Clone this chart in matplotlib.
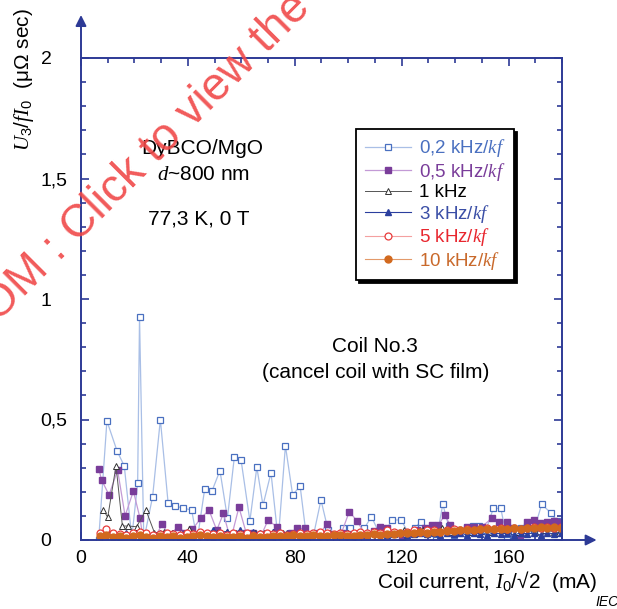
import matplotlib
matplotlib.use("Agg")
import matplotlib.pyplot as plt

plt.rcParams['font.family'] = ['Liberation Sans', 'DejaVu Sans']
plt.rcParams['mathtext.fontset'] = 'custom'
plt.rcParams['mathtext.it'] = 'Liberation Serif:italic'
plt.rcParams['mathtext.rm'] = 'Liberation Sans'

# 0,2 kHz/kf (open squares)
x02 = [6.6, 9.7, 13.5, 16.2, 19.0, 21.2, 21.9, 23.5, 26.8, 29.7,
       32.6, 35.2, 38.1, 41.4, 43.5, 46.3, 49.0, 52.0, 54.8, 57.4,
       59.9, 63.2, 65.8, 68.1, 71.1, 73.8, 76.5, 79.2, 82.0, 84.5,
       87.2, 89.8, 92.5, 95.5, 98.2, 100.8, 103.5, 106.0, 108.7, 111.5,
       114.0, 116.5, 119.8, 122.5, 125.0, 127.1, 130.0, 132.9, 135.4, 137.6,
       139.5, 142.5, 144.5, 146.6, 148.8, 151.5, 154.3, 157.1, 159.5, 162.0,
       164.5, 167.0, 169.5, 172.4, 175.8, 178.0]
y02 = [0.0, 0.494, 0.369, 0.307, 0.01, 0.235, 0.925, 0.0, 0.18, 0.5,
       0.153, 0.141, 0.133, 0.124, 0.0, 0.213, 0.203, 0.288, 0.091, 0.346,
       0.332, 0.079, 0.302, 0.144, 0.279, 0.0, 0.391, 0.187, 0.224, 0.0,
       0.03, 0.166, 0.04, 0.0, 0.048, 0.05, 0.0, 0.048, 0.097, 0.03,
       0.04, 0.083, 0.083, 0.03, 0.05, 0.076, 0.04, 0.0, 0.148, 0.058,
       0.02, 0.03, 0.05, 0.058, 0.058, 0.04, 0.131, 0.131, 0.0, 0.03,
       0.05, 0.06, 0.04, 0.148, 0.113, 0.079]

# 0,5 kHz/kf (filled squares)
x05 = [6.7, 7.7, 10.5, 13.7, 16.5, 19.6, 22.1, 23.3, 25.8, 27.5,
       30.4, 33.0, 36.4, 39.0, 41.7, 44.8, 47.9, 50.8, 53.3, 56.0,
       59.1, 61.8, 64.5, 67.5, 70.0, 73.2, 76.0, 78.5, 81.0, 83.8,
       86.5, 89.5, 92.0, 95.0, 97.5, 100.4, 103.3, 106.5, 109.5, 111.9,
       114.5, 117.5, 120.3, 123.0, 125.8, 128.7, 131.2, 133.7, 136.2, 138.1,
       141.0, 144.3, 147.0, 150.0, 153.7, 156.4, 159.3, 161.8, 164.3, 166.8,
       169.5, 171.8, 174.3, 177.0, 179.3]
y05 = [0.293, 0.249, 0.187, 0.29, 0.1, 0.203, 0.09, 0.0, 0.0, 0.01,
       0.065, 0.02, 0.055, 0.03, 0.044, 0.09, 0.124, 0.041, 0.11, 0.0,
       0.136, 0.03, 0.028, 0.02, 0.083, 0.055, 0.02, 0.03, 0.048, 0.048,
       0.02, 0.03, 0.065, 0.02, 0.03, 0.118, 0.079, 0.02, 0.037, 0.055,
       0.051, 0.03, 0.0, 0.03, 0.04, 0.048, 0.062, 0.062, 0.104, 0.062,
       0.04, 0.055, 0.055, 0.055, 0.09, 0.075, 0.075, 0.05, 0.021, 0.073,
       0.083, 0.072, 0.076, 0.079, 0.076]

# 1 kHz (open triangles)
x1 = [8.4, 10.0, 13.1, 15.5, 17.7, 20.8, 24.3, 27.5, 31.0, 34.0,
      37.0, 40.5, 44.0, 47.5, 51.0, 54.5, 58.0, 61.5, 65.0, 68.5,
      72.0, 75.5, 79.0, 82.5, 86.0, 89.5, 93.0, 96.5, 100.0, 103.5,
      107.0, 110.5, 114.0, 117.5, 121.0, 124.5, 128.0, 131.5, 135.0, 138.5,
      142.0, 145.5, 149.0, 152.5, 156.0, 159.5, 163.0, 166.5, 170.0, 173.5,
      177.0, 179.0]
y1 = [0.124, 0.094, 0.308, 0.058, 0.058, 0.055, 0.124, 0.03, 0.035, 0.03,
      0.025, 0.045, 0.03, 0.025, 0.03, 0.035, 0.03, 0.025, 0.03, 0.03,
      0.035, 0.03, 0.025, 0.03, 0.03, 0.025, 0.03, 0.02, 0.03, 0.025,
      0.03, 0.03, 0.035, 0.03, 0.04, 0.035, 0.04, 0.035, 0.05, 0.035,
      0.04, 0.035, 0.04, 0.035, 0.04, 0.04, 0.035, 0.04, 0.035, 0.04,
      0.035, 0.03]

# 3, 5 and 10 kHz share the same currents
xl = [7.0, 9.5, 12.0, 14.5, 17.0, 19.5, 22.0, 24.5, 27.0, 29.5,
      32.0, 34.5, 37.0, 39.5, 42.0, 44.5, 47.0, 49.5, 52.0, 54.5,
      57.0, 59.5, 62.0, 64.5, 67.0, 69.5, 72.0, 74.5, 77.0, 79.5,
      82.0, 84.5, 87.0, 89.5, 92.0, 94.5, 97.0, 99.5, 102.0, 104.5,
      107.0, 109.5, 112.0, 114.5, 117.0, 119.5, 122.0, 124.5, 127.0, 129.5,
      132.0, 134.5, 137.0, 139.5, 142.0, 144.5, 147.0, 149.5, 152.0, 154.5,
      157.0, 159.5, 162.0, 164.5, 167.0, 169.5, 172.0, 174.5, 177.0, 179.5]
y3 = [0.03, 0.04, 0.02, 0.01, 0.03, 0.02, 0.01, 0.03, 0.02, 0.03,
      0.02, 0.03, 0.02, 0.03, 0.02, 0.03, 0.03, 0.04, 0.03, 0.035,
      0.03, 0.04, 0.03, 0.035, 0.03, 0.03, 0.035, 0.03, 0.03, 0.025,
      0.03, 0.02, 0.025, 0.03, 0.02, 0.025, 0.02, 0.03, 0.02, 0.025,
      0.02, 0.03, 0.025, 0.02, 0.025, 0.03, 0.02, 0.025, 0.03, 0.025,
      0.03, 0.02, 0.03, 0.025, 0.03, 0.02, 0.03, 0.025, 0.02, 0.03,
      0.025, 0.03, 0.02, 0.03, 0.025, 0.03, 0.02, 0.03, 0.025, 0.03]
y5 = [0.03, 0.045, 0.03, 0.025, 0.02, 0.03, 0.035, 0.03, 0.02, 0.025,
      0.03, 0.025, 0.02, 0.03, 0.025, 0.035, 0.03, 0.025, 0.03, 0.02,
      0.03, 0.025, 0.03, 0.02, 0.025, 0.03, 0.025, 0.03, 0.02, 0.025,
      0.03, 0.025, 0.03, 0.035, 0.03, 0.025, 0.03, 0.025, 0.03, 0.035,
      0.03, 0.035, 0.03, 0.04, 0.035, 0.03, 0.035, 0.04, 0.035, 0.04,
      0.04, 0.035, 0.04, 0.045, 0.04, 0.045, 0.04, 0.045, 0.05, 0.045,
      0.05, 0.045, 0.05, 0.045, 0.05, 0.055, 0.05, 0.055, 0.05, 0.055]
y10 = [0.015, 0.02, 0.012, 0.018, 0.01, 0.015, 0.02, 0.012, 0.01, 0.015,
       0.012, 0.018, 0.01, 0.014, 0.016, 0.02, 0.015, 0.012, 0.018, 0.014,
       0.012, 0.016, 0.01, 0.015, 0.014, 0.012, 0.016, 0.015, 0.018, 0.02,
       0.016, 0.018, 0.02, 0.015, 0.018, 0.02, 0.022, 0.018, 0.015, 0.02,
       0.022, 0.025, 0.02, 0.024, 0.026, 0.028, 0.03, 0.03, 0.032, 0.028,
       0.035, 0.034, 0.036, 0.038, 0.04, 0.04, 0.042, 0.044, 0.045, 0.046,
       0.044, 0.045, 0.048, 0.046, 0.05, 0.048, 0.052, 0.05, 0.053, 0.05]

labels = ['0,2 kHz/$\\mathit{kf}$', '0,5 kHz/$\\mathit{kf}$', '1 kHz',
          '3 kHz/$\\mathit{kf}$', '5 kHz/$\\mathit{kf}$', '10 kHz/$\\mathit{kf}$']
text_colors = ['#4a70c0', '#7a3d9a', 'black', '#3a4ea6', '#e8262e', '#c9692b']
axcol = '#2d3a96'

fig = plt.figure(figsize=(6.17, 6.09), dpi=100)
ax = fig.add_axes([81/617, 1-540/609, 481/617, 482/609])

ax.plot(x02, y02, '-s', color='#a9bfe6', lw=0.9, ms=5, mfc='white', mec='#4a70c0', mew=0.9, label=labels[0])
ax.plot(x05, y05, '-s', color='#c39ad6', lw=0.9, ms=5, mfc='#7a3d9a', mec='#7a3d9a', label=labels[1])
ax.plot(x1, y1, '-^', color='#555555', lw=0.7, ms=4, mfc='white', mec='#333333', mew=0.7, label=labels[2])
ax.plot(xl, y3, '-^', color='#2b3f9e', lw=0.8, ms=4, mfc='#2b3f9e', mec='#2b3f9e', label=labels[3])
ax.plot(xl, y5, '-o', color='#f4a0a0', lw=0.8, ms=5, mfc='white', mec='#e83a3a', mew=0.9, label=labels[4])
ax.plot(xl, y10, '-o', color='#e39a6a', lw=0.8, ms=5, mfc='#d2691e', mec='#d2691e', label=labels[5])

ax.set_xlim(0, 180)
ax.set_ylim(0, 2)
ax.set_xticks([0, 40, 80, 120, 160])
ax.set_xticklabels(['0', '40', '80', '120', '160'])
ax.set_xticks(range(0, 181, 10), minor=True)
ax.set_yticks([0, 0.5, 1, 1.5, 2])
ax.set_yticklabels(['0', '0,5', '1', '1,5', '2'])
ax.set_yticks([i / 10 for i in range(21)], minor=True)
ax.tick_params(which='both', direction='in', top=True, right=True, color=axcol, width=1.2, labelsize=14)
ax.tick_params(which='major', length=6)
ax.tick_params(which='minor', length=3.5)
ax.tick_params(axis='x', pad=7)
ax.tick_params(axis='y', pad=29)
plt.setp(ax.get_yticklabels(), ha='left')
for s in ax.spines.values():
    s.set_color(axcol)
    s.set_linewidth(1.4)

# axis arrows
ax.annotate('', xy=(0, 2.19), xytext=(0, 1.99), annotation_clip=False,
            arrowprops=dict(arrowstyle='-|>', color=axcol, lw=1.4, mutation_scale=16))
ax.annotate('', xy=(194, 0), xytext=(179, 0), annotation_clip=False,
            arrowprops=dict(arrowstyle='-|>', color=axcol, lw=1.4, mutation_scale=16))

leg = ax.legend(loc='upper left', bbox_to_anchor=(0.572, 0.853), borderaxespad=0,
                fontsize=13.5, handlelength=2.5, handletextpad=0.4, labelspacing=0.08,
                borderpad=0.45, numpoints=1, fancybox=False, edgecolor='black',
                shadow={'color': 'black', 'alpha': 1})
leg.get_frame().set_linewidth(1.3)
for t, c in zip(leg.get_texts(), text_colors):
    t.set_color(c)

fig.text(202/617, 1-149/609, 'DyBCO/MgO', fontsize=15, ha='center', va='center')
fig.text(203/617, 1-174/609, '$d$~800 nm', fontsize=15, ha='center', va='center')
fig.text(199/617, 1-219/609, '77,3 K, 0 T', fontsize=15, ha='center', va='center')
fig.text(375/617, 1-347/609, 'Coil No.3', fontsize=15, ha='center', va='center')
fig.text(376/617, 1-373/609, '(cancel coil with SC film)', fontsize=15, ha='center', va='center')

fig.text(24/617, 1-80/609, '$U_3/fI_0$  (μΩ sec)', fontsize=15, rotation=90, ha='center', va='center')
fig.text(487/617, 1-581/609, 'Coil current, $I_0$/√2  (mA)', fontsize=15, ha='center', va='center')
fig.text(595/617, 1-602/609, 'IEC', fontsize=10, style='italic', ha='left', va='center')

fig.text(-0.304, 0.164, 'IECNORM.COM : Click to view the full PDF', fontsize=33,
         color='#f04848', alpha=0.9, rotation=45, rotation_mode='anchor',
         ha='left', va='baseline', zorder=10)

fig.savefig('out.png', dpi=100)
